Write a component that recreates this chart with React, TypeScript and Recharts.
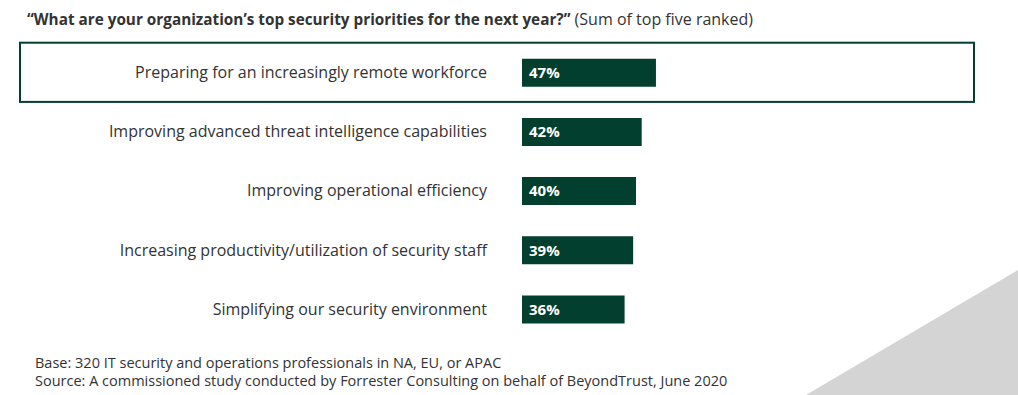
import React from 'react';
import { BarChart, Bar, XAxis, YAxis, LabelList, ReferenceArea } from 'recharts';

// survey answers, in the order shown
const priorities = [
  'Preparing for an increasingly remote workforce',
  'Improving advanced threat intelligence capabilities',
  'Improving operational efficiency',
  'Increasing productivity/utilization of security staff',
  'Simplifying our security environment',
];
const shares = [47, 42, 40, 39, 36];
const highlighted = priorities[0];

const data = priorities.map((name, i) => ({ name, value: shares[i] }));

const GREEN = '#023f2e';
const TEXT = '#333333';
const FONT = '"Open Sans", Arial, sans-serif';

const HighlightBox = (props: any) => (
  <rect x={20} y={props.y} width={954} height={props.height} fill="none" stroke={GREEN} strokeWidth={2} />
);

const App: React.FC = () => {
  return (
    <div style={{ position: 'absolute', left: 0, top: 0, width: 1018, height: 395, background: '#fff', overflow: 'hidden', fontFamily: FONT, color: TEXT }}>
      <svg width={1018} height={395} style={{ position: 'absolute', left: 0, top: 0 }}>
        <polygon points="806,395 1018,270 1018,395" fill="#d4d4d4" />
      </svg>

      <div style={{ position: 'absolute', left: 27, top: 8, fontSize: 15, lineHeight: '22px', whiteSpace: 'nowrap' }}>
        <span style={{ fontWeight: 700, fontSize: 15.3 }}>“What are your organization’s top security priorities for the next year?”</span>
        <span style={{ fontSize: 16 }}> (Sum of top five ranked)</span>
      </div>

      <div style={{ position: 'absolute', left: 0, top: 0 }}>
        <BarChart
          width={1018}
          height={395}
          data={data}
          layout="vertical"
          margin={{ top: 42.7, right: 211, bottom: 56.3, left: 0 }}
          barCategoryGap={0}
        >
          <XAxis type="number" domain={[0, 100]} hide />
          <YAxis
            type="category"
            dataKey="name"
            width={522}
            axisLine={false}
            tickLine={false}
            tickSize={0}
            tickMargin={35}
            tick={{ fill: TEXT, fontSize: 16, fontFamily: FONT }}
            interval={0}
          />
          <ReferenceArea y1={highlighted} y2={highlighted} ifOverflow="visible" shape={HighlightBox} />
          <Bar dataKey="value" fill={GREEN} barSize={28} isAnimationActive={false}>
            <LabelList
              dataKey="value"
              position="insideLeft"
              offset={7}
              formatter={(v: any) => `${v}%`}
              fill="#ffffff"
              style={{ fontWeight: 700, fontSize: 15, fontFamily: FONT }}
            />
          </Bar>
        </BarChart>
      </div>

      <div style={{ position: 'absolute', left: 35, top: 354, fontSize: 14.5, lineHeight: '18px', whiteSpace: 'nowrap' }}>
        <div>Base: 320 IT security and operations professionals in NA, EU, or APAC</div>
        <div>Source: A commissioned study conducted by Forrester Consulting on behalf of BeyondTrust, June 2020</div>
      </div>
    </div>
  );
};

export default App;
